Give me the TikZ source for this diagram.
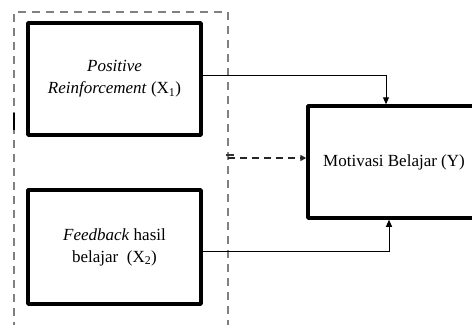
\documentclass[tikz,border=0pt]{standalone}
\usepackage{fontspec}
\setmainfont{Liberation Serif}
\usetikzlibrary{arrows.meta}
\begin{document}
\begin{tikzpicture}[x=1bp,y=-1bp,
  box/.style={draw=black, line width=3.5bp, line join=round, fill=white, inner sep=0pt, align=center,
    font=\fontsize{17bp}{22bp}\selectfont},
  grpbox/.style={draw=black!50, line width=1.5bp, dash pattern=on 8bp off 6bp, inner sep=0pt},
  conn/.style={draw=black, line width=1bp, -{Triangle[length=7bp,width=6bp]}},
  dconn/.style={draw=black!85, line width=1.6bp, dash pattern=on 7bp off 5bp, -{Triangle[length=6bp,width=6bp]}}
]
\useasboundingbox (0,0) rectangle (472,324);
\clip (0,0) rectangle (472,324);
\fill[white] (0,0) rectangle (472,324);
% dashed group outline
\node[grpbox, minimum width=214bp, minimum height=340bp] (grp) at (121,182) {};
% boxes
\node[box, minimum width=173bp, minimum height=112bp] (x1) at (114.5,79) {\itshape Positive\\\textit{Reinforcement} (X\textsubscript{1})};
\node[box, minimum width=173bp, minimum height=114bp] (x2) at (114.5,247) {\textit{Feedback} hasil\\belajar \ (X\textsubscript{2})};
\node[box, minimum width=172bp, minimum height=112bp] (y) at (394,162) {Motivasi Belajar (Y)};
% connectors
\draw[conn] ([yshift=3.5bp]x1.east) -| ([xshift=-8bp]y.north);
\draw[conn] ([yshift=-4bp]x2.east) -| ([xshift=-5bp]y.south);
\coordinate (d) at (228,158);
\draw[dconn] (d) -- (y.west |- d);
% small marks
\draw[black!80, line width=1.5bp] (226,155) -- (234,155);
\draw[black, line width=2bp] (14,113) -- (14,130);
\end{tikzpicture}
\end{document}
